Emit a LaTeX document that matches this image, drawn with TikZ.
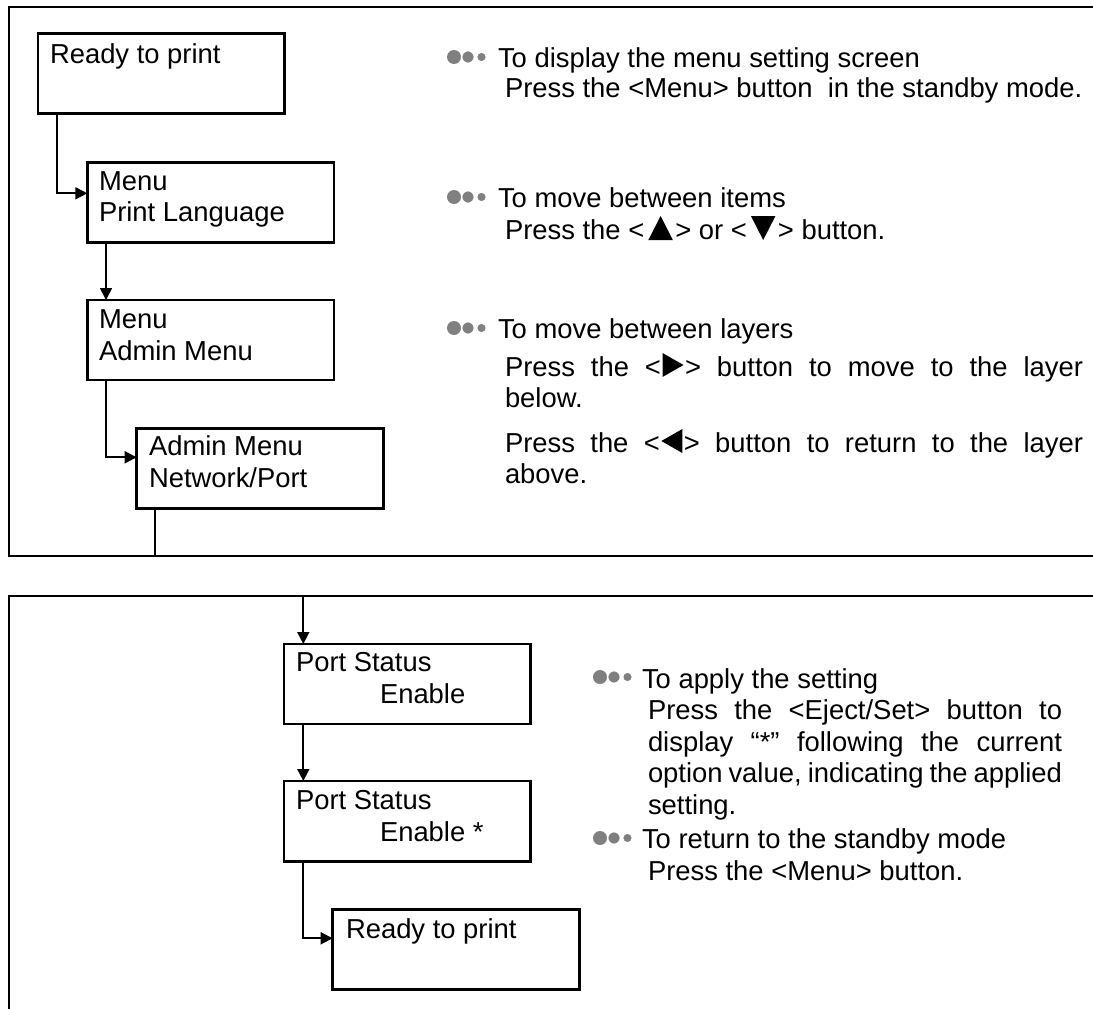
\documentclass[tikz,border=0pt]{standalone}
\usepackage{fontspec}
\setmainfont{Liberation Sans}
\usetikzlibrary{arrows.meta}
\definecolor{bulletgray}{RGB}{128,128,128}
\tikzset{
  box/.style={draw, line width=2.7pt, inner sep=0pt, outer sep=0pt, anchor=north west,
              minimum width=246.6pt, minimum height=80pt},
  txt/.style={inner sep=0pt, outer sep=0pt, anchor=base west, font=\fontsize{27.4}{31}\selectfont},
  conn/.style={line width=1.7pt},
  arr/.style={-{Triangle[length=12pt,width=12pt]}},
  frame/.style={line width=2pt},
  pics/bullets/.style={code={
    \fill[bulletgray] (7,0) circle[radius=7];
    \filldraw[bulletgray, draw=white, line width=1.5pt] (21,0) circle[radius=6.4];
    \filldraw[bulletgray, draw=white, line width=1.5pt] (34.5,0) circle[radius=5];
  }}
}
\newsavebox\triup
\newsavebox\tridown
\newsavebox\triright
\newsavebox\trileft
\newcommand\mytri[6]{\begin{pgfpicture}\pgfpathmoveto{\pgfqpoint{#1pt}{#2pt}}\pgfpathlineto{\pgfqpoint{#3pt}{#4pt}}\pgfpathlineto{\pgfqpoint{#5pt}{#6pt}}\pgfpathclose\pgfusepath{fill}\pgfsetbaseline{0pt}\end{pgfpicture}}
\begin{document}
\sbox\triup{\mytri{0}{-1}{24.5}{-1}{12.25}{23}}%
\sbox\tridown{\mytri{0}{23}{24.5}{23}{12.25}{-1}}%
\sbox\triright{\mytri{0}{-1}{0}{23}{21}{11}}%
\sbox\trileft{\mytri{21}{-1}{21}{23}{0}{11}}%
\begin{tikzpicture}[x=1pt,y=-1pt]
\useasboundingbox (0,0) rectangle (1093,1009);
% frames
\draw[frame] (1093,7.3) -- (9,7.3) -- (9,555.7) -- (1093,555.7);
\draw[frame] (1093,595.7) -- (9,595.7) -- (9,1009);
% boxes
\node[box] (b1) at (38,33.3) {};
\node[box] (b2) at (87.3,162.7) {};
\node[box] (b3) at (87.3,300) {};
\node[box] (b4) at (136.7,428.3) {};
\node[box] (b5) at (284,644) {};
\node[box, minimum height=80.7pt] (b6) at (284,781) {};
\node[box] (b7) at (332.7,909.3) {};
% box texts
\node[txt] (t1) at (50,63) {Ready to print};
\node[txt] (t2a) at (99,190.3) {Menu};
\node[txt] (t2b) at (99,221.7) {Print Language};
\node[txt] (t3a) at (99,328.3) {Menu};
\node[txt] (t3b) at (99,360) {Admin Menu};
\node[txt] (t4a) at (149,455.7) {Admin Menu};
\node[txt] (t4b) at (149,487.3) {Network/Port};
\node[txt] (t5a) at (296,671.7) {Port Status};
\node[txt] (t5b) at (380,703.3) {Enable};
\node[txt] (t6a) at (296,809.7) {Port Status};
\node[txt] (t6b) at (380,841.7) {Enable *};
\node[txt] (t7) at (346,938.3) {Ready to print};
% connectors
\coordinate (cut1) at (155,555.7);
\coordinate (cut2) at (303.3,595.7);
\draw[conn,arr] ([xshift=19.3pt]b1.south west) |- ([yshift=-30.6pt]b2.north west);
\draw[conn,arr] ([xshift=18.7pt]b2.south west) -- ([xshift=18.7pt]b3.north west);
\draw[conn,arr] ([xshift=18.7pt]b3.south west) |- ([yshift=-29pt]b4.north west);
\draw[conn] ([xshift=18.3pt]b4.south west) -- (cut1);
\draw[conn,arr] (cut2) -- ([xshift=19.3pt]b5.north west);
\draw[conn,arr] ([xshift=19.3pt]b5.south west) -- ([xshift=19.3pt]b6.north west);
\draw[conn,arr] ([xshift=19.3pt]b6.south west) |- ([yshift=-29pt]b7.north west);
% top explanations
\pic at (447,57) {bullets};
\node[txt] (r1) at (498,67) {To display the menu setting screen};
\node[txt] (r2) at (505,97) {Press the <Menu> button\ \ in the standby mode.};
\pic at (447,197) {bullets};
\node[txt] (r3) at (498,207) {To move between items};
\node[txt] (r4) at (505,239) {Press the <\hspace{4pt}\usebox\triup\hspace{2.5pt}> or <\hspace{4pt}\usebox\tridown\hspace{2.5pt}> button.};
\pic at (447,328) {bullets};
\node[txt] (r5) at (498,338) {To move between layers};
\node[txt] (r6) at (505,376) {\makebox[578pt][s]{Press the <\hspace{1.5pt}\usebox\triright\hspace{1.5pt}> button to move to the layer}};
\node[txt] (r7) at (505,407) {below.};
\node[txt] (r8) at (505,452) {\makebox[578pt][s]{Press the <\hspace{1.5pt}\usebox\trileft\hspace{1.5pt}> button to return to the layer}};
\node[txt] (r9) at (505,483) {above.};
% bottom explanations
\pic at (593,677) {bullets};
\node[txt] (s1) at (642,688) {To apply the setting};
\node[txt] (s2) at (648,719.5) {\makebox[414pt][s]{Press the <Eject/Set> button to}};
\node[txt] (s3) at (648,751) {\makebox[414pt][s]{display “*” following the current}};
\node[txt] (s4) at (648,782.5) {\makebox[414pt][s]{option value, indicating the applied}};
\node[txt] (s5) at (648,814) {setting.};
\pic at (593,838) {bullets};
\node[txt] (s6) at (642,848.5) {To return to the standby mode};
\node[txt] (s7) at (648,880) {Press the <Menu> button.};
\end{tikzpicture}
\end{document}
